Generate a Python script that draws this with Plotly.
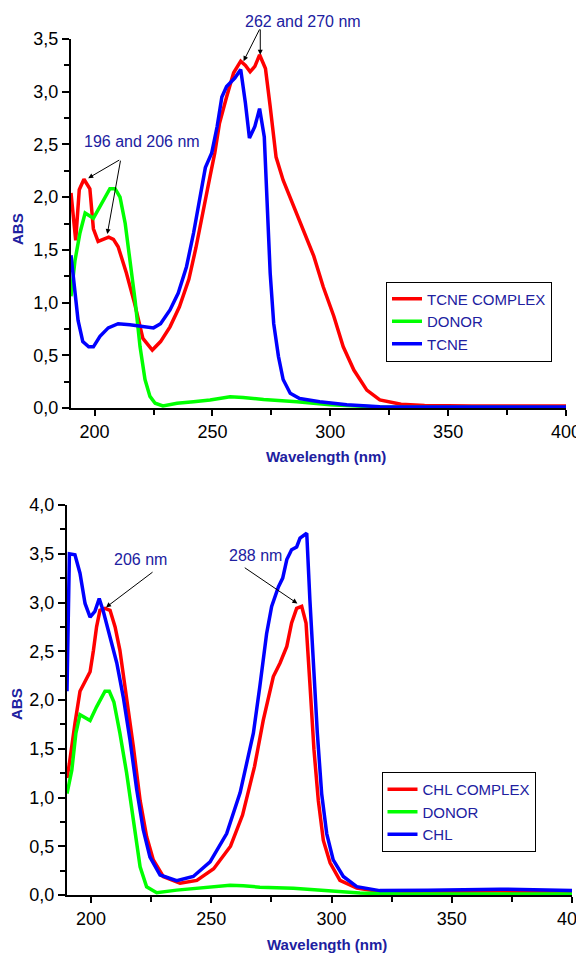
import plotly.graph_objects as go

# ---------------- Top panel: TCNE ----------------
tcne_complex_nm = [190, 192, 193.5, 195.5, 198, 199.5, 201.5, 206, 208, 210, 213.5, 217, 220.5, 224.5,
                   228, 232, 236, 240, 243, 246, 249, 251, 253, 256, 259, 262, 264, 266, 268, 270,
                   272.5, 274.5, 277, 280, 284, 288.5, 293, 297, 301.5, 305.5, 310, 315.5, 321, 330,
                   340, 360, 400]
tcne_complex_abs = [2.04, 1.59, 2.07, 2.17, 2.08, 1.70, 1.58, 1.62, 1.60, 1.53, 1.28, 0.99, 0.66, 0.55,
                    0.63, 0.77, 0.96, 1.22, 1.52, 1.88, 2.20, 2.42, 2.70, 2.95, 3.18, 3.29, 3.25, 3.19,
                    3.24, 3.35, 3.22, 2.86, 2.38, 2.16, 1.94, 1.69, 1.44, 1.15, 0.87, 0.58, 0.36, 0.17,
                    0.076, 0.035, 0.024, 0.02, 0.02]

tcne_donor_nm = [190, 191.7, 193.8, 196, 199.5, 203, 206.5, 208.7, 210.8, 213, 215, 217.2, 219.3, 221.4,
                 223.5, 225.7, 229, 235, 242, 249, 257.5, 263, 271.7, 285.8, 300, 320, 400]
tcne_donor_abs = [1.06, 1.40, 1.66, 1.85, 1.80, 1.94, 2.08, 2.08, 2.00, 1.75, 1.40, 1.02, 0.58, 0.27,
                  0.11, 0.045, 0.02, 0.045, 0.06, 0.076, 0.107, 0.10, 0.08, 0.06, 0.03, 0.01, 0.005]

tcne_nm = [190, 191.7, 193, 195, 197.5, 199.5, 202.3, 205.8, 210, 215, 220.5, 225, 228, 232, 235.5, 239,
           242, 243.5, 247, 249.7, 252, 254, 256, 259.5, 262, 264, 265.7, 268, 270, 272, 273, 274.5,
           276, 278, 280, 283, 287, 295.5, 307, 321, 340, 400]
tcne_abs = [1.45, 1.09, 0.83, 0.63, 0.58, 0.58, 0.68, 0.76, 0.80, 0.79, 0.77, 0.76, 0.80, 0.93, 1.09, 1.34,
            1.66, 1.85, 2.28, 2.42, 2.67, 2.95, 3.05, 3.13, 3.21, 2.89, 2.56, 2.67, 2.84, 2.57, 2.07, 1.28,
            0.80, 0.49, 0.27, 0.14, 0.09, 0.06, 0.03, 0.012, 0.01, 0.01]

# ---------------- Bottom panel: CHL ----------------
chl_complex_nm = [190, 191, 193.3, 195.4, 197.5, 199.6, 201, 202.3, 203.7, 205.8, 207.9, 210, 212, 214.8,
                  217.6, 220.4, 223.1, 225.9, 230, 237, 244, 251, 258, 263, 268, 271.6, 273.7, 275.8,
                  278.6, 281.4, 283.4, 285.5, 287.6, 289.4, 291, 292.7, 294.5, 296.6, 299.4, 303.5,
                  310.5, 320, 340, 370, 400]
chl_complex_abs = [1.20, 1.35, 1.76, 2.09, 2.19, 2.29, 2.51, 2.75, 2.92, 2.94, 2.92, 2.75, 2.51, 2.03,
                   1.52, 0.97, 0.60, 0.36, 0.19, 0.12, 0.15, 0.27, 0.50, 0.82, 1.32, 1.79, 2.03, 2.24,
                   2.38, 2.55, 2.79, 2.94, 2.96, 2.79, 2.17, 1.49, 0.97, 0.56, 0.33, 0.15, 0.07, 0.035,
                   0.035, 0.04, 0.035]

chl_donor_nm = [190, 192, 193.7, 195.4, 199.6, 202.3, 205.8, 207.6, 209.5, 212, 214.8, 217.6, 220.4,
                223.1, 227.3, 235.6, 245.3, 257.8, 263.3, 270.2, 284.1, 298, 311.8, 330, 400]
chl_donor_abs = [1.04, 1.28, 1.66, 1.85, 1.79, 1.93, 2.09, 2.09, 1.98, 1.66, 1.25, 0.74, 0.29, 0.085,
                 0.024, 0.05, 0.075, 0.10, 0.095, 0.08, 0.07, 0.045, 0.02, 0.01, 0.01]

chl_nm = [190, 191, 193.3, 195.4, 197.5, 199.6, 201.6, 203.4, 205.1, 207.9, 210.7, 213.4, 216.2, 219,
          221.7, 224.5, 228.7, 235.6, 242.5, 249.5, 256.4, 262, 267.5, 270.2, 273, 275.1, 277.9, 279.7,
          281.4, 283.4, 285.5, 286.9, 289.7, 291, 292.4, 294.1, 295.9, 298, 300.7, 304.9, 310.5, 320,
          340, 370, 400]
chl_abs = [2.09, 3.50, 3.49, 3.30, 2.99, 2.85, 2.91, 3.04, 2.91, 2.65, 2.38, 2.03, 1.59, 1.08, 0.67,
           0.39, 0.205, 0.147, 0.19, 0.34, 0.63, 1.05, 1.66, 2.14, 2.68, 2.96, 3.16, 3.25, 3.44, 3.54,
           3.57, 3.66, 3.71, 3.03, 2.34, 1.66, 1.04, 0.63, 0.36, 0.19, 0.085, 0.045, 0.05, 0.06, 0.045]

top_names = ["TCNE COMPLEX", "DONOR", "TCNE"]
bottom_names = ["CHL COMPLEX", "DONOR", "CHL"]
x_ticks = [200, 250, 300, 350, 400]

RED, GREEN, BLUE = "#ff0000", "#00ff00", "#0000ff"
TXT = "#2020a0"
FONT = "Liberation Sans, Arial, sans-serif"
LW = 3.5

fig = go.Figure()
for nm, ab, name, col in zip([tcne_complex_nm, tcne_donor_nm, tcne_nm],
                             [tcne_complex_abs, tcne_donor_abs, tcne_abs], top_names, [RED, GREEN, BLUE]):
    fig.add_trace(go.Scatter(x=nm, y=ab, name=name, mode="lines", line=dict(color=col, width=LW),
                             xaxis="x", yaxis="y", legend="legend"))
for nm, ab, name, col in zip([chl_complex_nm, chl_donor_nm, chl_nm],
                             [chl_complex_abs, chl_donor_abs, chl_abs], bottom_names, [RED, GREEN, BLUE]):
    fig.add_trace(go.Scatter(x=nm, y=ab, name=name, mode="lines", line=dict(color=col, width=LW),
                             xaxis="x2", yaxis="y2", legend="legend2"))

# page body adds an 8 px margin, so the figure is sized to fill the rest of the window
OFF = 8
W, H = 584 - OFF, 954 - OFF

def PX(px):
    return (px - OFF) / W

def PY(py):
    return 1 - (py - OFF) / H

def xax(d0, d1, anchor):
    return dict(domain=[PX(d0), PX(d1)], range=[190, 400], anchor=anchor, tickvals=x_ticks,
                ticks="outside", ticklen=6, tickwidth=2, tickcolor="black", automargin=False,
                ticklabeloverflow="allow",
                showline=True, linewidth=2, linecolor="black", showgrid=False, zeroline=False,
                minor=dict(tickvals=[225, 275, 325, 375], ticks="outside", ticklen=5, tickwidth=2,
                           tickcolor="black", showgrid=False),
                tickfont=dict(family=FONT, size=18, color="black"), fixedrange=True)

def yax(p_top, p_bot, ymax, anchor):
    return dict(domain=[PY(p_bot), PY(p_top)], range=[0, ymax], anchor=anchor, dtick=0.5,
                tickformat=".1f", ticks="outside", ticklen=7, tickwidth=2, tickcolor="black",
                automargin=False,
                showline=True, linewidth=2, linecolor="black", showgrid=False, zeroline=False,
                minor=dict(dtick=0.25, ticks="outside", ticklen=5, tickwidth=2, tickcolor="black",
                           showgrid=False),
                tickfont=dict(family=FONT, size=18, color="black"), fixedrange=True)

ann = []
# axis titles
for (px, py) in [(18, 229), (16, 704)]:
    ann.append(dict(xref="paper", yref="paper", x=PX(px), y=PY(py), xanchor="center", yanchor="middle",
                    text="<b>ABS</b>", textangle=-90, showarrow=False,
                    font=dict(family=FONT, size=15, color=TXT)))
for (px, py) in [(326, 456), (327, 944)]:
    ann.append(dict(xref="paper", yref="paper", x=PX(px), y=PY(py), xanchor="center", yanchor="middle",
                    text="<b>Wavelength (nm)</b>", showarrow=False,
                    font=dict(family=FONT, size=15, color=TXT)))

# peak labels (pixel centres of the text)
labels = [(302.5, 21, "262 and 270 nm"),
          (141.5, 141, "196 and 206 nm"),
          (140, 559, "206 nm"),
          (255, 555, "288 nm")]
for px, py, t in labels:
    ann.append(dict(xref="paper", yref="paper", x=PX(px), y=PY(py), xanchor="center", yanchor="middle",
                    text=t, showarrow=False, font=dict(family=FONT, size=16, color=TXT)))

arrows = [("x", "y", 270.3, 3.605, 263.2, 3.29),
          ("x", "y", 270.3, 3.605, 270.3, 3.35),
          ("x", "y", 211.1, 2.36, 197.3, 2.18),
          ("x", "y", 211.1, 2.36, 205.4, 1.65),
          ("x2", "y2", 226.2, 3.323, 206.2, 2.95),
          ("x2", "y2", 263.3, 3.367, 285.8, 2.99)]
for xr, yr, ax, ay, x, y in arrows:
    ann.append(dict(xref=xr, yref=yr, axref=xr, ayref=yr, x=x, y=y, ax=ax, ay=ay, text="",
                    showarrow=True, arrowhead=2, arrowsize=1, arrowwidth=1, arrowcolor="black",
                    standoff=0, startstandoff=0))

legend_common = dict(xanchor="center", yanchor="middle", bordercolor="black", borderwidth=1,
                     bgcolor="rgba(255,255,255,0)", font=dict(family=FONT, size=15, color=TXT),
                     tracegroupgap=0, itemwidth=30)

fig.update_layout(
    width=W, height=H, margin=dict(l=0, r=0, t=0, b=0, pad=0, autoexpand=False),
    paper_bgcolor="white", plot_bgcolor="white",
    separators=",.",
    font=dict(family=FONT),
    xaxis=xax(71, 566, "y"),
    yaxis=yax(39, 408, 3.5, "x"),
    xaxis2=xax(67, 572, "y2"),
    yaxis2=yax(505, 895, 4.0, "x2"),
    legend=dict(x=PX(469), y=PY(321.5), **legend_common),
    legend2=dict(x=PX(458.5), y=PY(812), **legend_common),
    annotations=ann,
    showlegend=True,
)

fig.write_html("out.html")
